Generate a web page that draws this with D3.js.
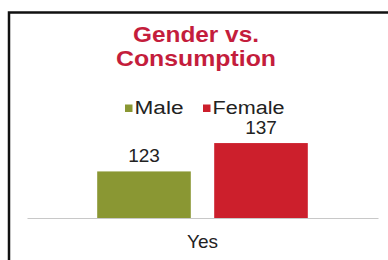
<!DOCTYPE html>
<html>
<head>
<meta charset="utf-8">
<script src="https://cdn.jsdelivr.net/npm/d3@7"></script>
<style>
  html, body { margin: 0; padding: 0; background: #ffffff; }
  svg { display: block; }
  text { font-family: "Liberation Sans", Arial, sans-serif; }
</style>
</head>
<body>
<svg id="chart" width="388" height="260"></svg>
<script>
const categories = ["Yes"];
const seriesNames = ["Male", "Female"];
const maleValues = [123];
const femaleValues = [137];
const seriesColors = ["#8a9733", "#cc1f2c"];
const titleLines = ["Gender vs.", "Consumption"];

const svg = d3.select("#chart");
const W = 388, H = 260;

svg.append("rect").attr("x", 0).attr("y", 0).attr("width", W).attr("height", H).attr("fill", "#fff");

// outer frame
svg.append("rect")
  .attr("x", 9).attr("y", 12.5).attr("width", 420).attr("height", 300)
  .attr("fill", "none").attr("stroke", "#111").attr("stroke-width", 2.5);

// title
const titleY = [42, 66];
const titleW = [126, 160];
titleLines.forEach((t, i) => {
  svg.append("text")
    .attr("x", 196).attr("y", titleY[i])
    .attr("text-anchor", "middle")
    .attr("font-size", 22).attr("font-weight", "bold")
    .attr("fill", "#c41d3c")
    .attr("textLength", titleW[i]).attr("lengthAdjust", "spacingAndGlyphs")
    .text(t);
});

// legend
const legendX = [125, 203];
const legendW = [49, 72];
seriesNames.forEach((s, i) => {
  svg.append("rect")
    .attr("x", legendX[i]).attr("y", 104.5).attr("width", 7.5).attr("height", 7.5)
    .attr("fill", seriesColors[i]);
  svg.append("text")
    .attr("x", legendX[i] + 9.5).attr("y", 114)
    .attr("font-size", 18).attr("fill", "#222")
    .attr("textLength", legendW[i]).attr("lengthAdjust", "spacingAndGlyphs")
    .text(s);
});

// scales
const x0 = d3.scaleBand().domain(categories).range([27, 378]).padding(0);
const x1 = d3.scaleBand().domain(seriesNames).range([0, x0.bandwidth()])
  .paddingInner(0.2).paddingOuter(0.6);
const y = d3.scaleLinear().domain([100, 140]).range([218, 137]);

const data = categories.map((c, i) => ({
  cat: c,
  vals: [{ s: "Male", v: maleValues[i] }, { s: "Female", v: femaleValues[i] }]
}));

const groups = svg.selectAll("g.cat").data(data).enter().append("g")
  .attr("class", "cat").attr("transform", d => `translate(${x0(d.cat)},0)`);

groups.selectAll("rect.bar").data(d => d.vals).enter().append("rect")
  .attr("class", "bar")
  .attr("x", d => x1(d.s)).attr("width", x1.bandwidth())
  .attr("y", d => y(d.v)).attr("height", d => y.range()[0] - y(d.v))
  .attr("fill", (d, i) => seriesColors[i]);

groups.selectAll("text.lbl").data(d => d.vals).enter().append("text")
  .attr("class", "lbl")
  .attr("x", d => x1(d.s) + x1.bandwidth() / 2)
  .attr("y", d => y(d.v) - 9.5)
  .attr("text-anchor", "middle")
  .attr("font-size", 19).attr("fill", "#222")
  .text(d => d.v);

// x axis baseline
const xAxis = d3.axisBottom(x0).tickSize(0).tickPadding(17);
const ax = svg.append("g").attr("transform", `translate(0,${y.range()[0]})`).call(xAxis);
ax.select(".domain").attr("stroke", "#c8c8c8").attr("stroke-width", 1.2);
ax.selectAll(".tick text")
  .attr("font-size", 19).attr("fill", "#222")
  .style("font-family", "'Liberation Sans', Arial, sans-serif");
</script>
</body>
</html>
